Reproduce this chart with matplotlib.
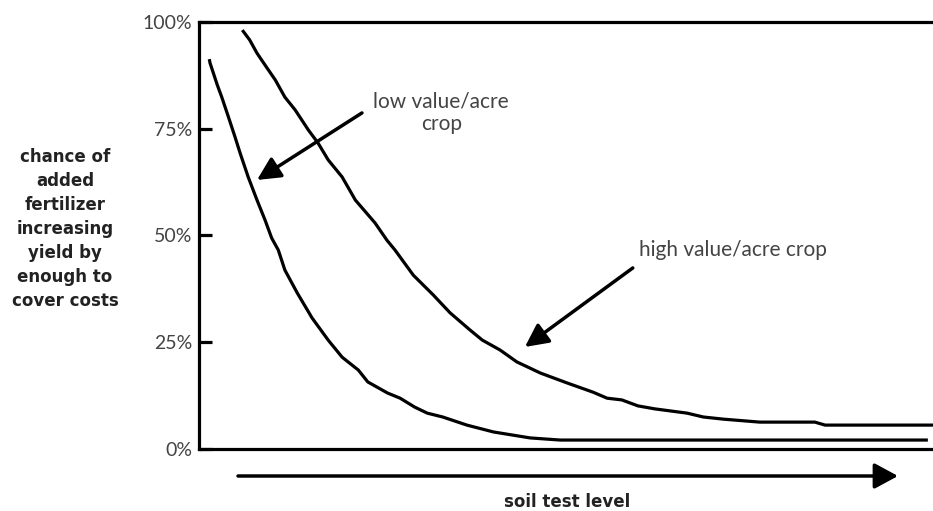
#!/usr/bin/env python3

import matplotlib
matplotlib.use('Agg')
import matplotlib.pyplot as plt
from matplotlib.patches import FancyArrowPatch

plt.rcParams['font.family'] = ['Lato', 'DejaVu Sans']

# soil test level (arbitrary units, 0-100) vs chance of payback (%)
low_x = [1.4, 1.5, 2.5, 3.1, 4.0, 4.9, 5.6, 6.7, 7.9, 9.0, 9.9, 10.8, 11.7, 13.4,
         15.4, 17.6, 19.5, 21.7, 23.0, 25.7, 27.4, 29.4, 31.1, 33.2, 36.5, 40.1,
         45.1, 49.2, 99.3]
low_y = [91.3, 90.4, 85.2, 82.4, 77.8, 73.1, 69.3, 63.7, 58.3, 53.6, 49.4, 46.6,
         41.9, 36.5, 30.7, 25.5, 21.5, 18.5, 15.7, 13.1, 11.9, 9.8, 8.4, 7.5, 5.6,
         4.0, 2.6, 2.1, 2.1]

high_x = [5.9, 6.9, 7.9, 9.0, 10.4, 11.7, 13.1, 14.9, 16.2, 17.6, 19.5, 21.3, 24.0,
          25.6, 26.7, 29.2, 31.9, 34.2, 36.9, 38.6, 41.0, 43.3, 46.5, 50.1, 53.7,
          55.6, 57.6, 59.8, 62.1, 66.5, 68.7, 71.4, 76.4, 83.9, 85.3, 100.0]
high_y = [98.1, 95.8, 92.7, 89.9, 86.4, 82.4, 79.4, 74.7, 71.7, 67.7, 63.7, 58.3,
          52.9, 48.9, 46.6, 40.7, 36.1, 31.9, 27.9, 25.5, 23.2, 20.4, 17.8, 15.5,
          13.3, 11.9, 11.5, 10.1, 9.4, 8.4, 7.5, 7.0, 6.3, 6.3, 5.6, 5.6]

y_ticks = [0, 25, 50, 75, 100]
y_tick_labels = ['0%', '25%', '50%', '75%', '100%']

TEXT = '#444444'
BOLD = '#222222'
LW = 2.3

fig = plt.figure(figsize=(9.33, 5.11), dpi=100)
ax = fig.add_axes([0.2133, 0.1213, 0.7867, 0.8357])

ax.plot(low_x, low_y, color='black', lw=LW, solid_capstyle='butt')
ax.plot(high_x, high_y, color='black', lw=LW, solid_capstyle='butt')

ax.set_xlim(0, 100)
ax.set_ylim(0, 100)
ax.set_xticks([])
ax.set_yticks(y_ticks)
ax.set_yticklabels(y_tick_labels)
ax.tick_params(axis='y', direction='in', length=9, width=2.3, labelsize=14,
               labelcolor=TEXT, pad=5)
for side in ['left', 'top', 'bottom']:
    ax.spines[side].set_linewidth(2.3)
ax.spines['right'].set_visible(False)

# callouts pointing at each curve
arrow = dict(arrowstyle='-|>,head_length=1.4,head_width=0.7', color='black',
             lw=2.5, shrinkA=0, shrinkB=0)
ax.annotate('', xy=(7.9, 63.0), xytext=(22.2, 78.7), arrowprops=arrow)
ax.annotate('', xy=(44.4, 23.9), xytext=(59.1, 42.4), arrowprops=arrow)
ax.text(33.0, 78.8, 'low value/acre\ncrop', ha='center', va='center',
        fontsize=15, color=TEXT, linespacing=1.15)
ax.text(59.9, 46.6, 'high value/acre crop', ha='left', va='center',
        fontsize=15, color=TEXT)

# x-axis direction arrow
fig.add_artist(FancyArrowPatch(
    (238 / 933, 1 - 476 / 511), (898 / 933, 1 - 476 / 511),
    transform=fig.transFigure, arrowstyle='-|>,head_length=1.2,head_width=0.65',
    color='black', lw=2.5, shrinkA=0, shrinkB=0, mutation_scale=12))

fig.text(567 / 933, 1 - 502 / 511, 'soil test level', ha='center', va='center',
         fontsize=12, fontweight='bold', color=BOLD, family='DejaVu Sans')
fig.text(65 / 933, 1 - 229 / 511,
         'chance of\nadded\nfertilizer\nincreasing\nyield by\nenough to\ncover costs',
         ha='center', va='center', fontsize=12, fontweight='bold', color=BOLD,
         family='DejaVu Sans', linespacing=1.42)

fig.savefig('out.png', dpi=100)
